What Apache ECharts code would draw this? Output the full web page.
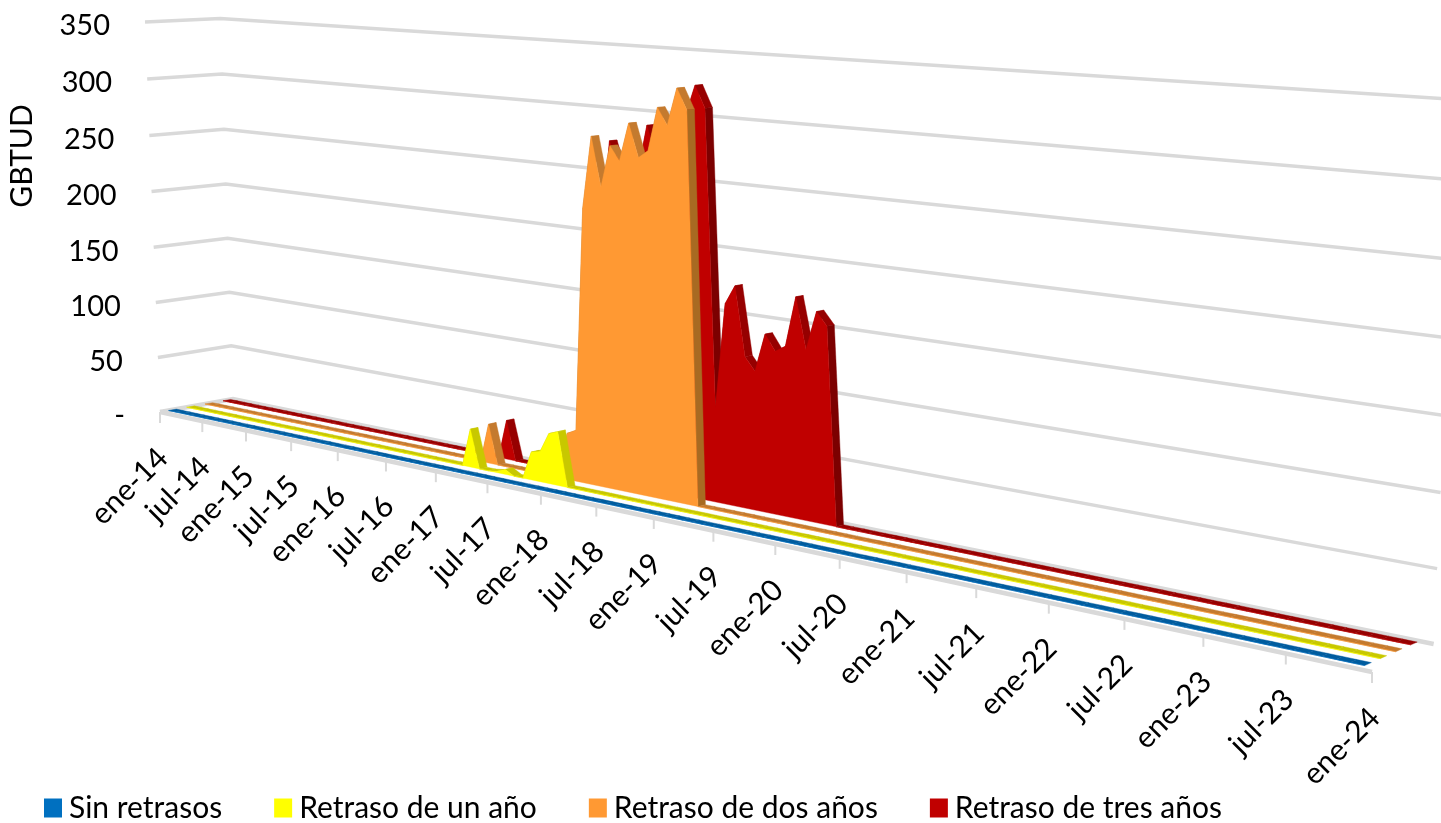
<!DOCTYPE html>
<html>
<head>
<meta charset="utf-8">
<title>GBTUD</title>
<script src="https://cdn.jsdelivr.net/npm/echarts@6/dist/echarts.min.js"></script>
<style>
    html,body{margin:0;padding:0;background:#fff;}
    #main{width:1441px;height:823px;}
</style>
</head>
<body>
<div id="main"></div>
<script>
    const xLabels = ['ene-14','jul-14','ene-15','jul-15','ene-16','jul-16','ene-17','jul-17','ene-18','jul-18','ene-19','jul-19','ene-20','jul-20','ene-21','jul-21','ene-22','jul-22','ene-23','jul-23','ene-24']
    const yTicks = [0,50,100,150,200,250,300,350]
    const seriesNames = ['Sin retrasos','Retraso de un año','Retraso de dos años','Retraso de tres años']

    // meses desde ene-14 hasta dic-23
    const sinRetrasos = [
        0,0,0,0,0,0,0,0,0,0,0,0, 0,0,0,0,0,0,0,0,0,0,0,0, 0,0,0,0,0,0,0,0,0,0,0,0,
        0,0,0,0,0,0,0,0,0,0,0,0, 0,0,0,0,0,0,0,0,0,0,0,0, 0,0,0,0,0,0,0,0,0,0,0,0,
        0,0,0,0,0,0,0,0,0,0,0,0, 0,0,0,0,0,0,0,0,0,0,0,0, 0,0,0,0,0,0,0,0,0,0,0,0,
        0,0,0,0,0,0,0,0,0,0,0,0
    ]
    const retrasoUno = [
        0,0,0,0,0,0,0,0,0,0,0,0, 0,0,0,0,0,0,0,0,0,0,0,0, 0,0,0,0,0,0,0,0,0,0,0,0,
        0,32,0,0,1,4,0,0,23,25,41,44, 0,0,0,0,0,0,0,0,0,0,0,0, 0,0,0,0,0,0,0,0,0,0,0,0,
        0,0,0,0,0,0,0,0,0,0,0,0, 0,0,0,0,0,0,0,0,0,0,0,0, 0,0,0,0,0,0,0,0,0,0,0,0,
        0,0,0,0,0,0,0,0,0,0,0,0
    ]
    const retrasoDos = [
        0,0,0,0,0,0,0,0,0,0,0,0, 0,0,0,0,0,0,0,0,0,0,0,0, 0,0,0,0,0,0,0,0,0,0,0,0,
        0,33,0,0,0,0,0,0,0,0,38,42, 222,280,241,274,263,293,267,273,307,294,323,307, 0,0,0,0,0,0,0,0,0,0,0,0,
        0,0,0,0,0,0,0,0,0,0,0,0, 0,0,0,0,0,0,0,0,0,0,0,0, 0,0,0,0,0,0,0,0,0,0,0,0,
        0,0,0,0,0,0,0,0,0,0,0,0
    ]
    const retrasoTres = [
        0,0,0,0,0,0,0,0,0,0,0,0, 0,0,0,0,0,0,0,0,0,0,0,0, 0,0,0,0,0,0,0,0,0,0,0,0,
        0,33,0,0,0,0,0,0,0,0,0,0, 200,275,250,240,252,290,265,265,290,300,324,307, 75,158,173,119,109,139,127,132,171,132,162,152,
        0,0,0,0,0,0,0,0,0,0,0,0, 0,0,0,0,0,0,0,0,0,0,0,0, 0,0,0,0,0,0,0,0,0,0,0,0,
        0,0,0,0,0,0,0,0,0,0,0,0
    ]
    const seriesValues = [sinRetrasos,retrasoUno,retrasoDos,retrasoTres]

    const frontColors = ['#0070C0','#FFFF00','#FF9933','#C00000']
    const topColors = ['#005C9E','#C8C800','#C47A2E','#960000']
    const dropColors = ['#004C82','#B5B500','#A86A22','#7C0000']
    const depths = [0.115,0.36,0.61,0.86]   // cara frontal de cada serie
    const ribbon = 0.105
    const gridColor = '#D9D9D9'
    const fontName = 'Lato'

    // rejilla oculta: da las escalas, luego se deforma a perspectiva
    const GRID = {left:0,top:0,width:1000,height:400}
    const MONTHS = 120
    const p = -0.3125, q = 0.0255, r = -0.025
    const O = [160,412], FR = [1372,672], BL = [233,399], TL = [145,22]
    const A = [FR[0]*(1+p)-O[0], FR[1]*(1+p)-O[1]]
    const B = [BL[0]*(1+q)-O[0], BL[1]*(1+q)-O[1]]
    const C = [TL[0]*(1+r)-O[0], TL[1]*(1+r)-O[1]]

    function warp(s,d,h){
        const w = 1 + p*s + q*d + r*h
        return [(O[0]+A[0]*s+B[0]*d+C[0]*h)/w, (O[1]+A[1]*s+B[1]*d+C[1]*h)/w]
    }
    // mes y valor -> pixel
    function project(api,t,v,d){
        const c = api.coord([t,v])
        return warp((c[0]-GRID.left)/GRID.width, d, (GRID.top+GRID.height-c[1])/GRID.height)
    }
    function band(points,fill){
        return {type:'polygon',shape:{points},style:{fill,stroke:fill,lineWidth:0.4}}
    }
    function line(points,width){
        return {type:'polyline',shape:{points},style:{fill:'none',stroke:gridColor,lineWidth:width}}
    }

    function renderWall(params,api){
        const v = api.value(1)
        const start = project(api,0,v,0)
        const children = [line([start,project(api,0,v,1),project(api,MONTHS,v,1)],v===0?4.5:3.5)]
        children.push({type:'text',style:{text:v===0?'-':String(v),x:start[0]-35,y:start[1]+4,align:'right',verticalAlign:'middle',font:'29px '+fontName,fill:'#000'}})
        return {type:'group',children}
    }
    function renderFloor(params,api){
        return {type:'group',children:[
            line([project(api,0,0,0),project(api,MONTHS,0,0)],4.5),
            {type:'text',x:22,y:156,rotation:Math.PI/2,style:{text:'GBTUD',x:0,y:0,align:'center',verticalAlign:'middle',font:'30px '+fontName,fill:'#000'}}
        ]}
    }
    function renderTick(params,api){
        const t = api.value(0)
        const pt = project(api,t,0,0)
        return {type:'group',children:[
            line([pt,[pt[0],pt[1]+11]],2),
            {type:'text',x:pt[0]+3,y:pt[1]+41,rotation:Math.PI/4,style:{text:xLabels[params.dataIndex],x:0,y:0,align:'right',verticalAlign:'middle',font:'30px '+fontName,fill:'#000'}}
        ]}
    }
    function renderArea(k){
        return function(params,api){
            if(params.dataIndex !== 0) return null
            const values = seriesValues[k]
            const d0 = depths[k], d1 = d0+ribbon
            const children = []
            for(let i=0;i<values.length-1;i++){
                const fill = values[i]-values[i+1] > 100 ? dropColors[k] : topColors[k]
                children.push(band([project(api,i,values[i],d0),project(api,i+1,values[i+1],d0),project(api,i+1,values[i+1],d1),project(api,i,values[i],d1)],fill))
            }
            const last = values.length-1
            const top = values.map((v,i) => project(api,i,v,d0))
            children.push(band(top.concat([project(api,last,0,d0),project(api,0,0,d0)]),frontColors[k]))
            return {type:'group',children}
        }
    }

    const areaSeries = seriesNames.map((name,k) => ({
        name,
        type:'custom',
        coordinateSystem:'cartesian2d',
        z:6-k,
        clip:false,
        itemStyle:{color:frontColors[k]},
        data:seriesValues[k].map((v,i) => [i,v]),
        encode:{x:0,y:1},
        renderItem:renderArea(k)
    }))

    const option = {
        animation:false,
        backgroundColor:'#fff',
        grid:GRID,
        xAxis:{type:'value',min:0,max:MONTHS,show:false},
        yAxis:{type:'value',min:0,max:350,interval:50,show:false},
        legend:{
            data:seriesNames,
            left:44,
            top:793,
            icon:'rect',
            itemWidth:18,
            itemHeight:19,
            itemGap:52,
            padding:0,
            selectedMode:false,
            textStyle:{fontFamily:fontName,fontSize:30,color:'#000',padding:[0,0,0,2]}
        },
        series:[
            {type:'custom',coordinateSystem:'cartesian2d',z:1,clip:false,silent:true,data:yTicks.map(v => [0,v]),encode:{x:0,y:1},renderItem:renderWall},
            {type:'custom',coordinateSystem:'cartesian2d',z:2,clip:false,silent:true,data:[[0,0]],encode:{x:0,y:1},renderItem:renderFloor},
            {type:'custom',coordinateSystem:'cartesian2d',z:2,clip:false,silent:true,data:xLabels.map((l,i) => [i*6,0]),encode:{x:0,y:1},renderItem:renderTick}
        ].concat(areaSeries)
    }

    const chartInstance = echarts.init(document.getElementById('main'))
    chartInstance.setOption(option)
</script>
</body>
</html>
